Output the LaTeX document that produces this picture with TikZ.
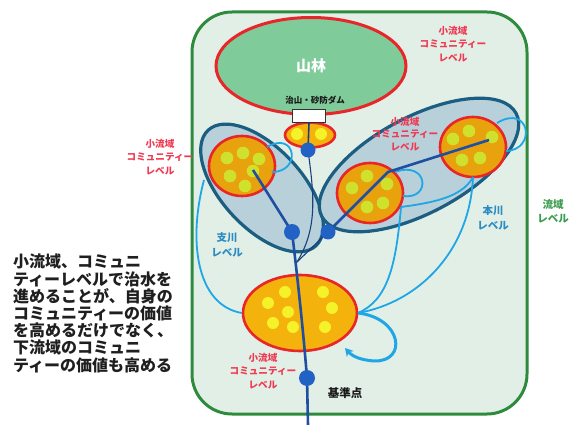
\documentclass[tikz,border=0pt]{standalone}
\usepackage{fontspec}
\newfontfamily\jp{Noto Sans CJK JP}
\usetikzlibrary{shapes.geometric,arrows.meta}
\definecolor{bgmint}{HTML}{E2EFE6}
\definecolor{frame}{HTML}{2E8B3E}
\definecolor{forest}{HTML}{7FCB99}
\definecolor{redline}{HTML}{E8262A}
\definecolor{levelfill}{HTML}{B8D0DA}
\definecolor{levelline}{HTML}{1B5E82}
\definecolor{orangefill}{HTML}{E8A20E}
\definecolor{orangebot}{HTML}{F4B20C}
\definecolor{lime}{HTML}{CFE12C}
\definecolor{yel}{HTML}{F6F22A}
\definecolor{river}{HTML}{1E4FA0}
\definecolor{rdot}{HTML}{2262C4}
\definecolor{flow}{HTML}{1EA6E6}
\definecolor{redtext}{HTML}{EE3A52}
\definecolor{bluetext}{HTML}{2A8CC2}
\definecolor{greentext}{HTML}{3A9C4E}
\begin{document}
\begin{tikzpicture}[x=1pt,y=1pt,
  basinbox/.style={draw=frame,line width=3,fill=bgmint,rounded corners=40},
  forestshape/.style={ellipse,draw=redline,line width=3,fill=forest,inner sep=0,
     text=white,font=\jp\bfseries\fontsize{15}{15}\selectfont},
  levelell/.style={ellipse,draw=levelline,line width=3.2,fill=levelfill,inner sep=0},
  commcirc/.style={ellipse,draw=redline,line width=2.6,fill=orangefill,inner sep=0,
     minimum width=66,minimum height=60},
  commbot/.style={ellipse,draw=redline,line width=2.6,fill=orangebot,inner sep=0},
  dam/.style={draw=black!80,line width=1.2,fill=white,minimum width=33,minimum height=13,inner sep=0},
  riverdot/.style={circle,fill=rdot,minimum size=15,inner sep=0},
  riverln/.style={draw=river,line width=2.6},
  riverthin/.style={draw=river!80!black,line width=1.1},
  flowln/.style={draw=flow,line width=1.8},
  redlbl/.style={text=redtext,align=center,inner sep=0,font=\jp\bfseries\fontsize{9.6}{13.5}\selectfont},
  bluelbl/.style={text=bluetext,align=center,inner sep=0,font=\jp\bfseries\fontsize{10.5}{15}\selectfont},
  greenlbl/.style={text=greentext,align=center,inner sep=0,font=\jp\bfseries\fontsize{10.5}{14}\selectfont},
  blacklbl/.style={text=black!90,align=center,inner sep=0},
  limedot/.style={fill=lime},
  yeldot/.style={fill=yel}
]
\useasboundingbox (0,0) rectangle (579,-425);
\fill[white] (0,0) rectangle (579,-425);

% basin frame
\draw[basinbox] (192,-12) rectangle (527,-414);

% forest
\node[forestshape,minimum width=190,minimum height=97] (forest) at (311,-66) {山林};
\node[blacklbl,font=\jp\bfseries\fontsize{8.5}{10}\selectfont] (damtxt) at (315,-100) {治山・砂防ダム};

% level ellipses
\node[levelell,rotate=-47,minimum width=158,minimum height=80] (trib) at (262,-188) {};
\node[levelell,rotate=28,minimum width=220,minimum height=96] (mainst) at (419,-165) {};

% coordinates for flows
\coordinate (fL) at (204,-180);
\coordinate (lpL1) at (267,-147);
\coordinate (lpL2) at (272,-172);
\coordinate (lpA1) at (395,-172);
\coordinate (lpA2) at (403,-196);
\coordinate (lpB1) at (497,-123);
\coordinate (lpB2) at (506,-151);
\coordinate (fB) at (473,-177);
\coordinate (fA) at (401,-207);
\coordinate (fD) at (358,-313);
\coordinate (fDarr) at (345,-348);

% community units
\node[commbot,minimum width=50,minimum height=25] (c0) at (310,-135) {};
\node[commcirc] (cL) at (242,-166) {};
\node[commcirc] (cA) at (370,-193) {};
\node[commcirc] (cB) at (473,-147) {};
\node[commbot,minimum width=114,minimum height=76] (cD) at (300,-313) {};

% flows
\draw[flowln] (fL) .. controls (188,-240) and (196,-305) .. (cD.west);
\draw[flowln] (lpL1) .. controls (296,-130) and (302,-172) .. (lpL2);
\draw[flowln] (lpA1) .. controls (428,-160) and (432,-200) .. (lpA2);
\draw[flowln] (lpB1) .. controls (530,-103) and (537,-150) .. (lpB2);
\draw[flowln] (fB) .. controls (462,-198) and (430,-203) .. (fA);
\draw[flowln] (fA) .. controls (396,-265) and (388,-300) .. (fD);
\draw[flowln] (fB) .. controls (470,-250) and (420,-302) .. (fD);
\draw[flowln,line width=3,-{Stealth[length=8pt,width=9pt]}] (fD) .. controls (402,-318) and (408,-362) .. (374,-361) .. controls (360,-360) and (352,-356) .. (fDarr);

% dots in communities
\foreach \p in {(297,-134),(321,-134)} \fill[yeldot] \p circle (6);
\foreach \p in {(227,-158),(243,-153),(259,-159),(253,-171),(230,-176),(245,-186)} \fill[limedot] \p circle (6.3);
\foreach \p in {(352,-188),(367,-176),(387,-184),(367,-207),(383,-203)} \fill[limedot] \p circle (6.3);
\foreach \p in {(453,-139),(469,-131),(492,-137),(462,-160),(480,-158)} \fill[limedot] \p circle (6.3);
\foreach \p in {(285,-292),(268,-303),(288,-312),(273,-323),(293,-327),(323,-292),(332,-308),(325,-327)} \fill[yeldot] \p circle (6);

% dam
\node[dam] (dam) at (309,-116) {};

% rivers
\coordinate (pTop) at (308,-150);
\coordinate (pL) at (292,-232);
\coordinate (pR) at (328,-232);
\coordinate (pBase) at (307,-378);
\coordinate (merge) at (297,-262);
\coordinate (srcL) at (253,-170);
\coordinate (srcB) at (489,-140);
\coordinate (bendA) at (388,-172);
\coordinate (outlet) at (308,-425);
\draw[riverthin,line width=1.6] (dam.south) -- (pTop);
\draw[riverthin] (pTop) .. controls (314,-195) and (318,-228) .. (merge);
\draw[riverthin] (pR) -- (merge);
\draw[riverln] (srcL) -- (pL);
\draw[riverln] (srcB) -- (bendA) -- (pR);
\draw[riverln] (pL) .. controls (299,-290) and (304,-340) .. (pBase) -- (outlet);
\node[riverdot] (dTop) at (pTop) {};
\node[riverdot,minimum size=16] (dL) at (pL) {};
\node[riverdot] (dR) at (pR) {};
\node[riverdot,minimum size=16] (dBase) at (pBase) {};

% labels
\node[redlbl] (lblTR) at (453,-44) {小流域\\コミュニティー\\レベル};
\node[redlbl] (lblL) at (160,-157) {小流域\\コミュニティー\\レベル};
\node[redlbl,font=\jp\bfseries\fontsize{9.6}{12.5}\selectfont] (lblM) at (405,-134) {小流域\\コミュニティー\\レベル};
\node[redlbl] (lblB) at (263,-371) {小流域\\コミュニティー\\レベル};
\node[bluelbl] (lblTrib) at (227,-245) {支川\\レベル};
\node[bluelbl] (lblMain) at (493,-218) {本川\\レベル};
\node[greenlbl] (lblBasin) at (553,-211) {流域\\レベル};
\node[blacklbl,font=\jp\bfseries\fontsize{11.5}{12}\selectfont] (lblBase) at (345,-393) {基準点};
\node[anchor=north west,align=left,inner sep=0,text=black!88,
      font=\jp\bfseries\fontsize{16}{17.2}\selectfont] (note) at (13,-254)
  {小流域、コミュニ\\ティーレベルで治水を\\進めることが、自身の\\コミュニティーの価値\\を高めるだけでなく、\\下流域のコミュニ\\ティーの価値も高める};
\end{tikzpicture}
\end{document}
